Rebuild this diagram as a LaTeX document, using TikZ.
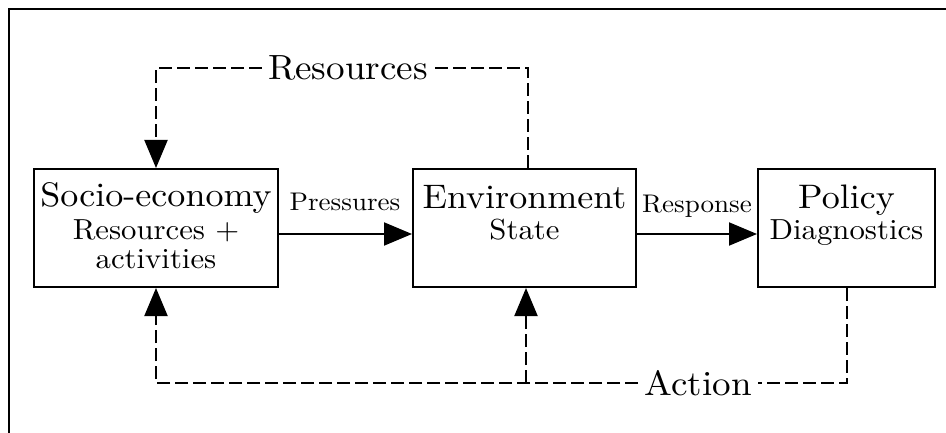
\documentclass[tikz,border=0pt]{standalone}
\usepackage{fontspec}
\setmainfont{lmroman10-regular.otf}[FakeStretch=1.06]
\usetikzlibrary{arrows.meta}
\begin{document}
\begin{tikzpicture}[x=1pt,y=-1pt,
  box/.style={draw,line width=2pt,inner sep=0pt},
  ttl/.style={anchor=base,inner sep=0pt,font=\fontsize{34}{40}\selectfont},
  sub/.style={anchor=base,inner sep=0pt,font=\fontsize{29}{34}\selectfont},
  lbl/.style={anchor=base,inner sep=0pt,font=\fontsize{25.5}{30}\selectfont},
  flow/.style={line width=2pt,-{Triangle[length=28pt,width=23pt]}},
  fb/.style={line width=2pt,dash pattern=on 13pt off 5pt},
  fbarr/.style={fb,-{Triangle[length=28pt,width=23pt]}},
  tag/.style={inner sep=6pt,font=\fontsize{35}{40}\selectfont}]
\useasboundingbox (0,0) rectangle (946,433);
\fill[white] (0,0) rectangle (946,433);
% outer frame
\draw[line width=2pt] (9,433) -- (9,9) -- (946,9);
% the three blocks
\node[box,minimum width=244pt,minimum height=118pt] (soc) at (156,228) {};
\node[box,minimum width=223pt,minimum height=118pt] (env) at (524.5,228) {};
\node[box,minimum width=177pt,minimum height=118pt] (pol) at (846.5,228) {};
% block texts
\node[ttl] (soct) at (156,207) {Socio-economy};
\node[sub] (socs) at (156,240) {Resources +};
\node[sub] (soca) at (156,268) {activities};
\node[ttl] (envt) at (524.5,209) {Environment};
\node[sub] (envs) at (524.5,240) {State};
\node[ttl] (polt) at (846.5,209) {Policy};
\node[sub] (pols) at (846.5,240) {Diagnostics};
% forward flows
\draw[flow] ([yshift=-6pt]soc.east) -- ([yshift=-6pt]env.west);
\draw[flow] ([yshift=-6pt]env.east) -- ([yshift=-6pt]pol.west);
\node[lbl] (pres) at (345,211) {Pressures};
\node[lbl] (resp) at (697,212) {Response};
% resources feedback
\node[tag] (res) at (348,68) {Resources};
\draw[fb] ([xshift=3pt]env.north) |- (res.east);
\draw[fbarr] (res.west) -| (soc.north);
% action feedback
\node[tag] (act) at (698,383) {Action};
\coordinate (j) at (526,383);
\draw[fb] (pol.south) |- (act.east);
\draw[fbarr] (act.west) -| (soc.south);
\draw[fbarr] (j) -- (j |- env.south);
\end{tikzpicture}
\end{document}
